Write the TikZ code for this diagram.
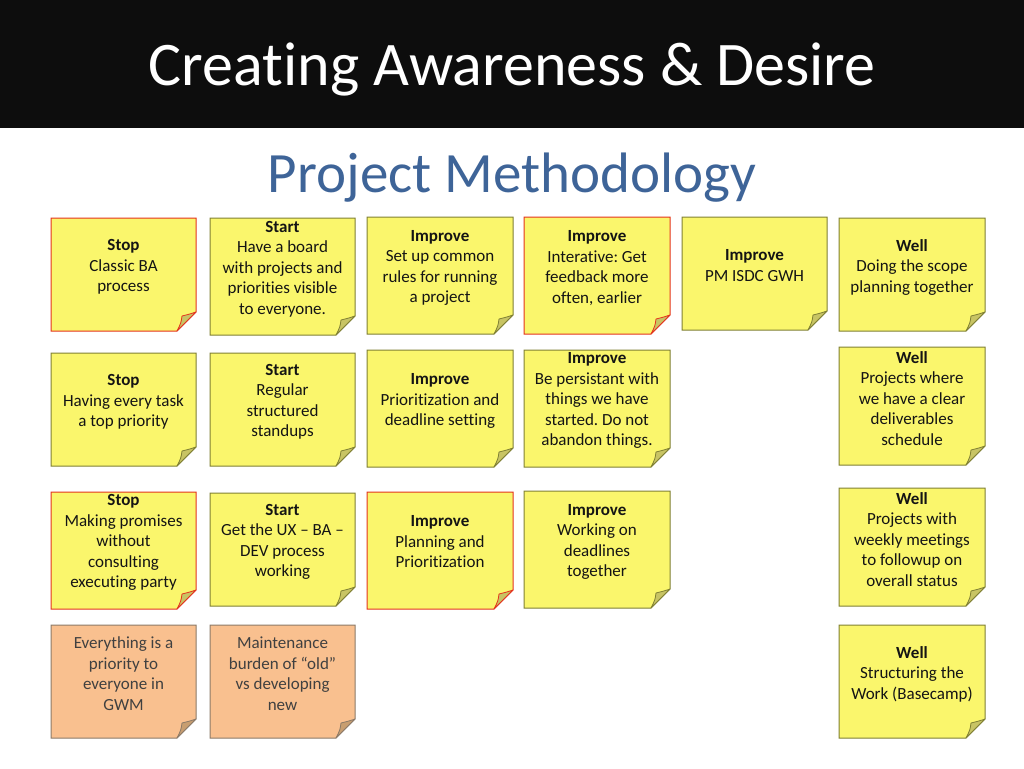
\documentclass[tikz,border=0pt]{standalone}
\usepackage{fontspec}
\setmainfont{Carlito}[Ligatures=NoCommon]
\frenchspacing
\definecolor{band}{RGB}{13,13,13}
\definecolor{subblue}{RGB}{62,100,152}
\definecolor{ylfill}{RGB}{250,246,108}
\definecolor{ylline}{RGB}{128,128,52}
\definecolor{ylflap}{RGB}{200,196,100}
\definecolor{rdline}{RGB}{228,52,30}
\definecolor{orfill}{RGB}{249,192,143}
\definecolor{orline}{RGB}{140,122,104}
\definecolor{orflap}{RGB}{200,158,112}
\tikzset{
  yellownote/.style={fill=ylfill,draw=ylline,line width=1pt},
  yellowflap/.style={fill=ylflap,draw=ylline,line width=0.8pt,line join=round},
  rednote/.style={fill=ylfill,draw=rdline,line width=1pt},
  redflap/.style={fill=ylflap,draw=rdline,line width=0.8pt,line join=round},
  orangenote/.style={fill=orfill,draw=orline,line width=1pt},
  orangeflap/.style={fill=orflap,draw=orline,line width=0.8pt,line join=round},
  notetext/.style={align=center,inner sep=0pt,text=black!92,font=\fontsize{17}{20.5}\selectfont\frenchspacing},
  greytext/.style={notetext,text=black!75},
}
% #1 name, #2 L, #3 T, #4 R, #5 B, #6 kind, #7 text y, #8 text style, #9 text
\newcommand{\sticky}[9]{%
  \path[#6note] (#2,#3) -- (#4,#3) -- (#4,#5-19) -- (#4-19,#5) -- (#2,#5) -- cycle;
  \path[#6flap] (#4,#5-19) .. controls (#4-6,#5-17) .. (#4-14,#5-15)
     .. controls (#4-15,#5-8) .. (#4-19,#5) -- cycle;
  \node[#8] (#1) at ({(#2+#4)/2},#7+1) {#9};
}
\begin{document}
\begin{tikzpicture}[x=1pt,y=-1pt]
\useasboundingbox (0,0) rectangle (1024,768);
\fill[white] (0,0) rectangle (1024,768);
\fill[band] (0,0) rectangle (1024,128);
\node[anchor=base,text=white,font=\fontsize{62}{70}\selectfont,inner sep=0pt] (title) at (512,85) {Creating Awareness \& Desire};
\node[anchor=base,text=subblue,font=\fontsize{57}{64}\selectfont,inner sep=0pt] (subtitle) at (512,192) {Project Methodology};

% Row 1
\sticky{a1}{51}{218}{196}{331}{red}{266}{notetext}{\textbf{Stop}\\Classic BA\\process}
\sticky{b1}{210}{218}{355}{335}{yellow}{268}{notetext}{\textbf{Start}\\Have a board\\with projects and\\priorities visible\\to everyone.}
\sticky{c1}{367}{217}{513}{334}{yellow}{267}{notetext}{\textbf{Improve}\\Set up common\\rules for running\\a project}
\sticky{d1}{524}{217}{670}{334}{red}{267}{notetext}{\textbf{Improve}\\Interative: Get\\feedback more\\often, earlier}
\sticky{e1}{682}{217}{827}{330}{yellow}{264.5}{notetext}{\textbf{Improve}\\PM ISDC GWH}
\sticky{f1}{839}{218}{985}{331}{yellow}{266}{notetext}{\textbf{Well}\\Doing the scope\\planning together}

% Row 2
\sticky{a2}{51}{353}{196}{466}{yellow}{401}{notetext}{\textbf{Stop}\\Having every task\\a top priority}
\sticky{b2}{210}{353}{355}{466}{yellow}{401}{notetext}{\textbf{Start}\\Regular\\structured\\standups}
\sticky{c2}{367}{350}{513}{467}{yellow}{400}{notetext}{\textbf{Improve}\\Prioritization and\\deadline setting}
\sticky{d2}{524}{350}{670}{467}{yellow}{399.5}{notetext}{\textbf{Improve}\\Be persistant with\\things we have\\started. Do not\\abandon things.}
\sticky{f2}{839}{347}{985}{465}{yellow}{397.5}{notetext}{\textbf{Well}\\Projects where\\we have a clear\\deliverables\\schedule}

% Row 3
\sticky{a3}{51}{492}{196}{609}{red}{541.5}{notetext}{\textbf{Stop}\\Making promises\\without\\consulting\\executing party}
\sticky{b3}{210}{493}{355}{606}{yellow}{541}{notetext}{\textbf{Start}\\Get the UX -- BA --\\DEV process\\working}
\sticky{c3}{367}{492}{513}{609}{red}{541}{notetext}{\textbf{Improve}\\Planning and\\Prioritization}
\sticky{d3}{524}{491}{670}{608}{yellow}{541}{notetext}{\textbf{Improve}\\Working on\\deadlines\\together}
\sticky{f3}{839}{488}{985}{606}{yellow}{538.5}{notetext}{\textbf{Well}\\Projects with\\weekly meetings\\to followup on\\overall status}

% Row 4
\sticky{a4}{51}{625}{196}{738}{orange}{672.5}{greytext}{Everything is a\\priority to\\everyone in\\GWM}
\sticky{b4}{210}{625}{355}{738}{orange}{672.5}{greytext}{Maintenance\\burden of “old”\\vs developing\\new}
\sticky{f4}{839}{625}{985}{738}{yellow}{673}{notetext}{\textbf{Well}\\Structuring the\\Work (Basecamp)}
\end{tikzpicture}
\end{document}
